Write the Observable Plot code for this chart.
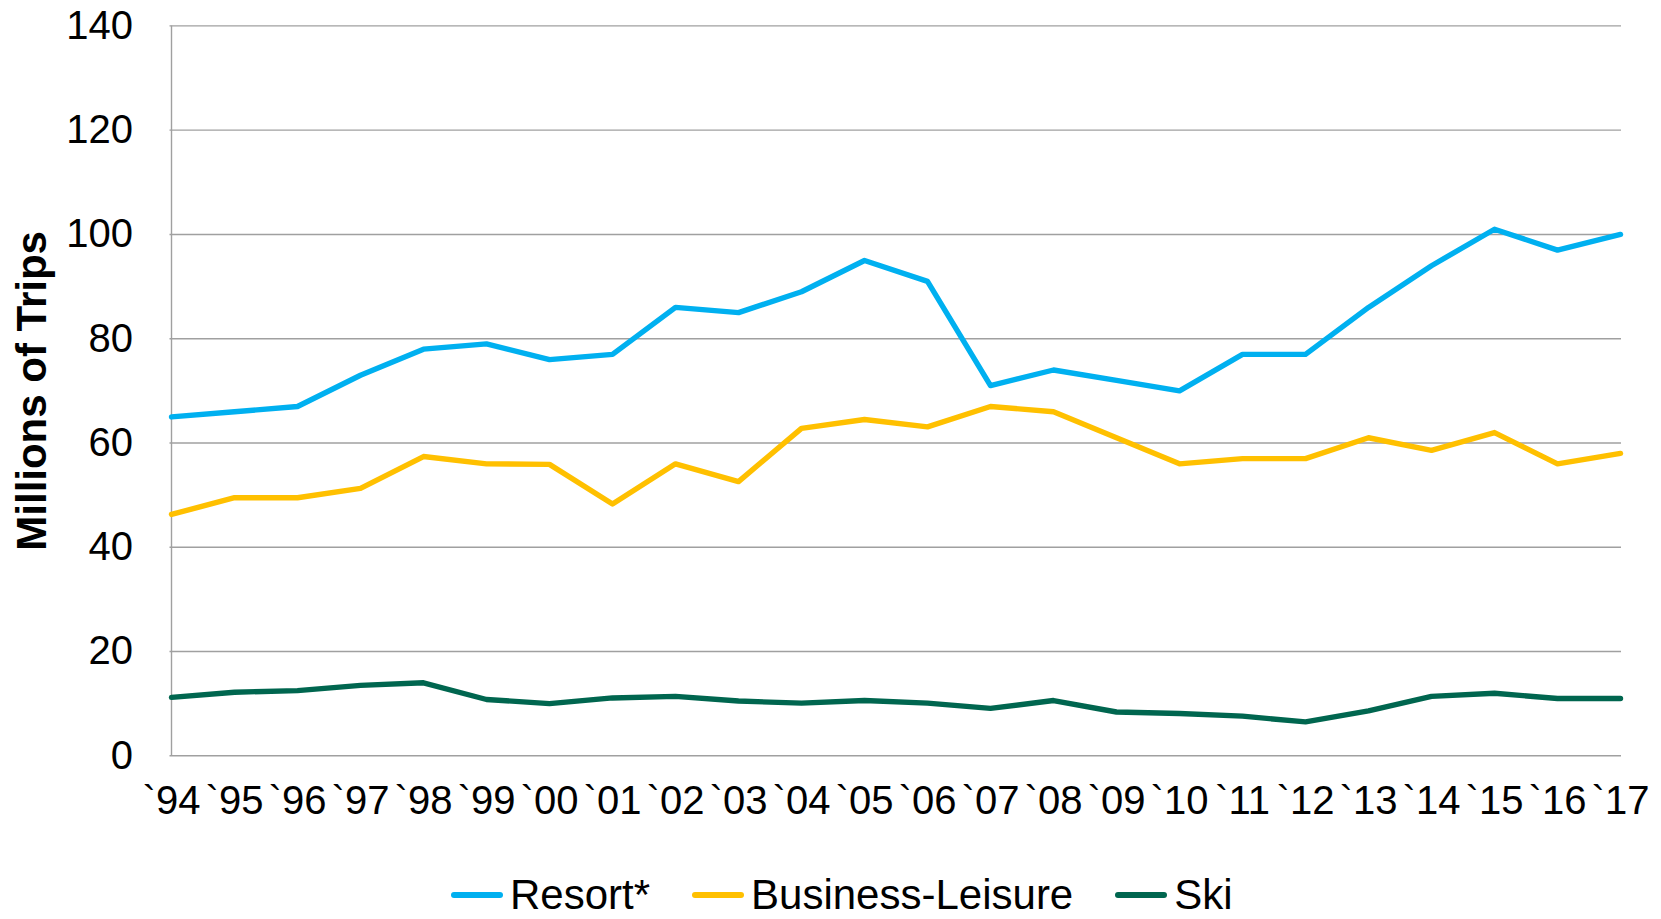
<!DOCTYPE html>
<html>
<head>
<meta charset="utf-8">
<script src="https://cdn.jsdelivr.net/npm/d3@7"></script>
<script src="https://cdn.jsdelivr.net/npm/@observablehq/plot@0.6"></script>
<style>
  html, body { margin: 0; padding: 0; background: #fff; overflow: hidden; }
  #wrap { position: relative; width: 1661px; height: 919px; }
  #legend { position: absolute; left: 451px; top: 874px; display: flex; align-items: center; font-family: "Liberation Sans", Arial, sans-serif; font-size: 42px; line-height: 42px; color: #000; white-space: nowrap; }
  .item { display: flex; align-items: center; margin-right: 42px; }
  .sw { display: inline-block; width: 52px; height: 6px; border-radius: 3px; margin-right: 7px; }
</style>
</head>
<body>
<div id="wrap"><div id="chart"></div><div id="legend"></div></div>
<script>
const years = ["`94","`95","`96","`97","`98","`99","`00","`01","`02","`03","`04","`05","`06","`07","`08","`09","`10","`11","`12","`13","`14","`15","`16","`17"];
const resort = [65, 66, 67, 73, 78, 79, 76, 77, 86, 85, 89, 95, 91, 71, 74, 72, 70, 77, 77, 86, 94, 101, 97, 100];
const businessLeisure = [46.3, 49.5, 49.5, 51.3, 57.4, 56, 55.9, 48.3, 56, 52.6, 62.8, 64.5, 63.1, 67, 66, 61, 56, 57, 57, 61, 58.6, 62, 56, 58];
const ski = [11.2, 12.2, 12.5, 13.5, 14, 10.8, 10, 11.1, 11.4, 10.5, 10.1, 10.6, 10.1, 9.1, 10.6, 8.4, 8.1, 7.6, 6.5, 8.6, 11.4, 12, 11, 11];
const seriesNames = ["Resort*", "Business-Leisure", "Ski"];
const seriesColors = ["#00B0F0", "#FFC000", "#00664F"];
const yTicks = [0, 20, 40, 60, 80, 100, 120, 140];
const yLabel = "Millions of Trips";

const seriesValues = [resort, businessLeisure, ski];
const rows = [];
seriesNames.forEach((name, i) => {
  years.forEach((yr, j) => rows.push({series: name, year: yr, value: seriesValues[i][j]}));
});

const chart = Plot.plot({
  width: 1661,
  height: 860,
  marginLeft: 169.5,
  marginRight: 40,
  marginTop: 25.4,
  marginBottom: 104.7,
  style: {fontFamily: "'Liberation Sans', Arial, sans-serif", fontSize: "40px", color: "#000", background: "#fff", overflow: "visible"},
  x: {type: "point", domain: years, padding: 0, label: null},
  y: {domain: [0, 140], label: null},
  color: {domain: seriesNames, range: seriesColors},
  marks: [
    Plot.gridY(yTicks, {stroke: "#A0A0A0", strokeOpacity: 1, strokeWidth: 1.4}),
    Plot.ruleX([years[0]], {stroke: "#A0A0A0", strokeWidth: 1.4}),
    Plot.axisY(yTicks, {tickSize: 0, tickPadding: 37, fill: "#000"}),
    Plot.axisX(years, {tickSize: 0, tickPadding: 30, fill: "#000"}),
    Plot.line(rows, {x: "year", y: "value", z: "series", stroke: "series", strokeWidth: 5.4, strokeLinejoin: "round", strokeLinecap: "round"}),
    Plot.text([yLabel], {frameAnchor: "left", dx: -137.5, rotate: -90, textAnchor: "middle", lineAnchor: "middle", fontSize: 42, fontWeight: "bold", fill: "#000"})
  ]
});
document.getElementById("chart").appendChild(chart);

const legend = document.getElementById("legend");
seriesNames.forEach((name, i) => {
  const item = document.createElement("div");
  item.className = "item";
  const sw = document.createElement("span");
  sw.className = "sw";
  sw.style.background = seriesColors[i];
  const t = document.createElement("span");
  t.textContent = name;
  item.appendChild(sw);
  item.appendChild(t);
  legend.appendChild(item);
});
</script>
</body>
</html>
